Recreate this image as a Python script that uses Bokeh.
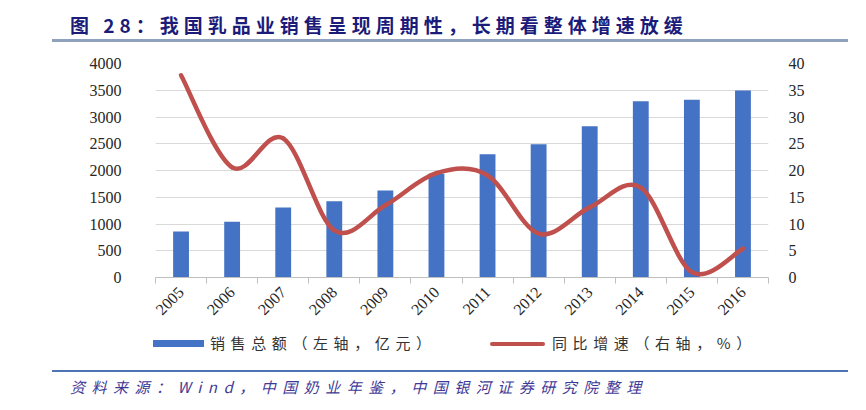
import numpy as np
from bokeh.plotting import figure
from bokeh.layouts import column
from bokeh.models import Range1d, LinearAxis, FixedTicker, Div
from bokeh.embed import file_html
from bokeh.resources import INLINE

# ---------------- data ----------------
years = ["2005", "2006", "2007", "2008", "2009", "2010",
         "2011", "2012", "2013", "2014", "2015", "2016"]
sales = [860, 1041, 1308, 1426, 1626, 1938, 2305, 2492, 2828, 3296, 3321, 3495]   # 亿元
growth = [37.8, 20.6, 26.0, 8.8, 13.5, 19.5, 19.1, 8.2, 13.1, 16.8, 1.0, 5.4]     # %
left_ticks = [0, 500, 1000, 1500, 2000, 2500, 3000, 3500, 4000]
right_ticks = [0, 5, 10, 15, 20, 25, 30, 35, 40]

title_text = "图 28：我国乳品业销售呈现周期性，长期看整体增速放缓"
legend_bar = "销售总额（左轴，亿元）"
legend_line = "同比增速（右轴，%）"
source_text = "资料来源：Wind，中国奶业年鉴，中国银河证券研究院整理"

# ---------------- styling / layout ----------------
W = 850
H_TOP, H_MID, H_BOT = 45, 285, 72
ML, MR, MT, MB = 155, 82, 18, 53

cjk = "Noto Sans CJK SC"
tick_font = "Liberation Serif"
tick_color = "#262626"
BAR_COLOR = "#4472C4"
LINE_COLOR = "#C0504D"

# ---------------- header (title + rule) ----------------
header_html = (
    '<div style="position:relative;width:850px;height:45px;">'
    '<div style="position:absolute;left:70px;top:13px;white-space:nowrap;'
    "font-family:'Noto Sans CJK SC';font-size:19px;font-weight:bold;letter-spacing:5px;"
    'line-height:24px;color:#1B1B7A;">' + title_text + '</div>'
    '<div style="position:absolute;left:52px;top:39px;width:796px;height:2.5px;'
    'background:#8FA1BC;"></div></div>'
)
header = Div(text=header_html, width=W, height=H_TOP, margin=0)

# ---------------- main chart ----------------
n = len(years)
xs = list(range(n))

p = figure(width=W, height=H_MID, x_range=Range1d(-0.5, n - 0.5), y_range=Range1d(0, 4000),
           output_backend="svg", toolbar_location=None,
           min_border_left=ML, min_border_right=MR, min_border_top=MT, min_border_bottom=MB,
           outline_line_color=None, background_fill_color="white", border_fill_color="white")
p.extra_y_ranges = {"pct": Range1d(0, 40)}

p.xgrid.visible = False
p.ygrid.ticker = FixedTicker(ticks=left_ticks)
p.ygrid.grid_line_color = "#D9D9D9"
p.ygrid.grid_line_width = 1

# bars
p.vbar(x=xs, top=sales, width=0.31, fill_color=BAR_COLOR, line_color=None)

# smoothed line (Catmull-Rom -> cubic Bezier through the data points)
gx = np.array(xs, dtype=float)
gy = np.array(growth, dtype=float)
px = np.concatenate([[gx[0]], gx, [gx[-1]]])
py = np.concatenate([[gy[0]], gy, [gy[-1]]])
x0, y0 = px[1:n], py[1:n]
x1, y1 = px[2:n + 1], py[2:n + 1]
cx0 = x0 + (px[2:n + 1] - px[0:n - 1]) / 6.0
cy0 = y0 + (py[2:n + 1] - py[0:n - 1]) / 6.0
cx1 = x1 - (px[3:n + 2] - px[1:n]) / 6.0
cy1 = y1 - (py[3:n + 2] - py[1:n]) / 6.0
p.bezier(x0=x0, y0=y0, x1=x1, y1=y1, cx0=cx0, cy0=cy0, cx1=cx1, cy1=cy1,
         y_range_name="pct", line_color=LINE_COLOR, line_width=4.5, line_cap="round")

xa = p.xaxis[0]
xa.ticker = FixedTicker(ticks=xs, minor_ticks=[i - 0.5 for i in range(n + 1)])
xa.major_label_overrides = {i: y for i, y in zip(xs, years)}
xa.major_label_orientation = np.pi / 4
xa.major_tick_line_color = None
xa.minor_tick_line_color = "#BFBFBF"
xa.minor_tick_out = 6
xa.minor_tick_in = 0
xa.axis_line_color = "#BFBFBF"
xa.major_label_text_font = tick_font
xa.major_label_text_font_size = "16px"
xa.major_label_text_color = tick_color
xa.major_label_standoff = 6

ya = p.yaxis[0]
ya.ticker = FixedTicker(ticks=left_ticks)
ya.axis_line_color = None
ya.major_tick_line_color = None
ya.minor_tick_line_color = None
ya.major_label_text_font = tick_font
ya.major_label_text_font_size = "16px"
ya.major_label_text_color = tick_color
ya.major_label_standoff = 28

ra = LinearAxis(y_range_name="pct", ticker=FixedTicker(ticks=right_ticks))
ra.axis_line_color = None
ra.major_tick_line_color = None
ra.minor_tick_line_color = None
ra.major_label_text_font = tick_font
ra.major_label_text_font_size = "16px"
ra.major_label_text_color = tick_color
ra.major_label_standoff = 14
p.add_layout(ra, "right")

# ---------------- footer (legend + rule + source) ----------------
leg_text_css = ("position:absolute;top:3px;white-space:nowrap;font-family:'Noto Sans CJK SC';"
                "font-size:15px;letter-spacing:5.6px;line-height:20px;color:#333333;")
footer_html = (
    '<div style="position:relative;width:850px;height:72px;">'
    '<div style="position:absolute;left:153px;top:10px;width:51px;height:7px;'
    'background:' + BAR_COLOR + ';"></div>'
    '<div style="left:210px;' + leg_text_css + '">' + legend_bar + '</div>'
    '<div style="position:absolute;left:490px;top:11.5px;width:55px;height:4.5px;'
    'border-radius:2.25px;background:' + LINE_COLOR + ';"></div>'
    '<div style="left:552px;' + leg_text_css + '">' + legend_line + '</div>'
    '<div style="position:absolute;left:52px;top:40px;width:796px;height:1.5px;'
    'background:#4F74B3;"></div>'
    '<div style="position:absolute;left:70px;top:48px;white-space:nowrap;'
    "font-family:'Noto Sans CJK SC';font-size:15px;font-style:italic;letter-spacing:6.5px;"
    'line-height:18px;color:#3F3A96;">' + source_text + '</div></div>'
)
footer = Div(text=footer_html, width=W, height=H_BOT, margin=0)

layout = column(header, p, footer, spacing=0)
open("out.html", "w").write(file_html(layout, INLINE))
